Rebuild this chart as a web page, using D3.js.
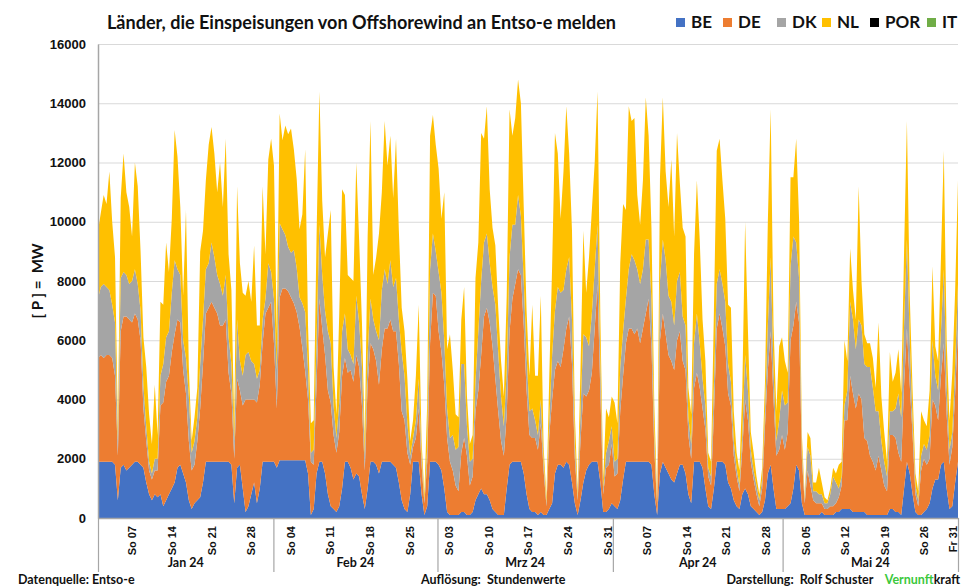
<!DOCTYPE html>
<html lang="de">
  <head>
    <meta charset="utf-8" />
    <title>Offshorewind Entso-e</title>
    <script src="https://d3js.org/d3.v7.min.js"></script>
    <style type="text/css">
      body { margin: 0; background: #fff; }
      svg { display: block; font-family: Lato, "Open Sans", sans-serif; }
      text { font-weight: bold; fill: #111; }
    </style>
  </head>
  <body>
    <script type="text/javascript">
      // Halbtageswerte (MW), je Tag zwei Werte
      const beJan = [1900,1900, 1900,1900, 1900,1900, 1800,600, 1700,1800, 1600,1700, 1800,1900, 1900,1800, 1700,1200, 800,600, 800,700, 800,400, 600,800, 1000,1200, 1700,1800, 1500,1200, 600,300, 500,600, 700,1200, 1900,1900, 1900,1900, 1900,1900, 1900,1900, 1900,1800, 500,1700, 1800,1000, 200,400, 800,1200, 500,1000, 1900,1900, 1900,1900];
      const deJan = [3500,3600, 3500,3600, 3600,3500, 3000,1500, 4600,5000, 5200,5000, 4800,5000, 4800,4200, 2000,1400, 800,700, 800,900, 3000,3500, 4000,4000, 4600,5000, 5000,4800, 3500,3000, 2000,1300, 1300,2000, 3000,4000, 5000,5200, 5400,5200, 5000,4600, 4600,4800, 3000,2400, 1500,3000, 2500,2800, 3800,3600, 3200,2800, 3400,3500, 4000,5000, 5200,5400];
      const dkJan = [2000,2300, 2500,2300, 2200,1800, 1800,500, 1800,1500, 1400,1200, 1400,1500, 1200,1000, 800,500, 300,200, 400,400, 1000,1300, 1500,1500, 2000,2500, 1700,1600, 1000,1200, 1500,600, 800,800, 1500,1500, 1500,1500, 2000,1700, 1300,1400, 1000,1500, 1200,1000, 600,2000, 1000,1000, 1500,1600, 1300,1200, 800,500, 800,500, 1500,1000];
      const nlJan = [2300,2500, 3000,2800, 4000,2800, 2200,500, 2700,4000, 2800,2600, 1500,3600, 3300,2000, 1600,2000, 1600,1000, 2500,800, 2500,2000, 3200,2000, 2500,4400, 3800,2300, 1500,5000, 1000,400, 800,1000, 3800,3000, 3000,4000, 3900,3500, 2800,4100, 3000,4600, 2800,2500, 600,4500, 3300,2800, 2000,2400, 2000,4000, 1800,1500, 4500,1500, 3500,4500];

      const beFeb = [1900,1700, 1950,1950, 1950,1950, 1950,1950, 1950,1950, 1950,1950, 1500,100, 300,1500, 1900,1900, 1500,800, 400,300, 200,400, 1000,1900, 1900,1700, 1300,1500, 1400,800, 300,1000, 1900,1900, 1800,1500, 1900,1900, 1900,1900, 1800,1700, 1200,600, 300,200, 800,1900, 1900,1900, 800,100, 400,1900, 1900,1900];
      const deFeb = [4000,2000, 5500,5800, 5800,5700, 5500,5300, 5000,4500, 3800,3000, 2500,1800, 1500,3000, 5500,4500, 4000,3500, 3500,2500, 2000,2500, 3800,3500, 3000,3300, 3300,4000, 3700,3000, 1300,3500, 4000,3800, 3500,3000, 3800,4500, 4500,4800, 4500,4600, 4000,3000, 3000,2000, 1000,500, 800,1800, 1000,400, 1500,4000, 5700,5600];
      const dkFeb = [1500,1300, 2500,2000, 1800,1500, 1500,1800, 1500,1000, 1500,2000, 1000,300, 500,1500, 2500,1800, 1500,2000, 2000,1000, 500,1000, 1500,1500, 800,500, 600,2000, 1500,1300, 500,1000, 1500,1000, 1000,1500, 2000,2000, 1500,2000, 1500,1800, 1500,2000, 1500,1000, 300,300, 600,1000, 300,100, 500,2500, 2000,1500];
      const nlFeb = [4500,1200, 3700,3000, 3700,3800, 4200,3400, 3000,2300, 3000,5500, 1500,1000, 1000,3500, 4500,2500, 1800,3300, 4500,1300, 800,3000, 4800,4000, 2500,2600, 2800,4500, 2800,1500, 500,4000, 6000,1500, 2500,3600, 3300,5000, 4000,4200, 3000,4700, 3000,1500, 1500,1500, 500,600, 1500,2500, 500,200, 1500,4500, 4000,3600];

      const beMar = [1800,1600, 1000,200, 100,100, 100,100, 200,200, 100,100, 200,600, 800,1000, 800,800, 600,300, 200,100, 100,100, 1000,1800, 1900,1900, 1900,1900, 1500,800, 300,200, 200,100, 200,100, 100,300, 500,1500, 1800,1800, 1700,1900, 1800,1200, 500,100, 600,1200, 1600,1800, 1900,1900, 1900,1200, 200,200, 300,500];
      const deMar = [4500,4000, 3500,2500, 1800,1500, 1000,800, 2000,2500, 2000,1000, 1200,3000, 3500,4500, 6000,6300, 6000,5500, 4500,3500, 2500,2000, 2500,4500, 5500,6000, 6500,6300, 5000,3500, 2500,2500, 2500,2200, 3000,1500, 300,2500, 3500,3500, 3500,3300, 4000,4500, 5000,4000, 1500,500, 2000,3000, 2500,2500, 3000,4500, 6000,3000, 600,1500, 1500,2000];
      const dkMar = [2000,2000, 1500,1000, 800,1200, 1200,1500, 3000,2500, 1000,800, 600,1000, 2000,2500, 2500,2500, 2000,2000, 2500,2000, 1500,1000, 1500,2500, 2500,2000, 2500,2000, 1500,1200, 800,1000, 600,500, 800,300, 100,500, 1500,2000, 2500,2500, 2000,2000, 2000,1500, 500,100, 1000,2000, 2000,1500, 2000,2000, 2000,1000, 200,500, 800,600];
      const nlMar = [3500,2500, 5000,2000, 3500,2200, 1200,1000, 1500,2600, 1000,600, 800,3500, 3000,5000, 3500,4300, 2500,2000, 2000,1500, 1200,1000, 2500,5000, 3000,3600, 3900,3800, 2500,1500, 1200,3500, 1500,2000, 3500,500, 200,1500, 3000,6000, 4500,2500, 4000,5500, 3500,3000, 1000,200, 1500,3500, 1500,3000, 3500,3600, 4500,1500, 300,1500, 800,1000];

      const beApr = [400,300, 600,1300, 1900,1900, 1900,1900, 1900,1900, 1900,1900, 1900,1800, 800,100, 1500,1900, 1700,1500, 1300,1200, 1500,1800, 1800,1500, 800,500, 1900,1900, 1900,1700, 1000,400, 300,1000, 1900,1900, 1900,1800, 1200,1000, 600,400, 300,800, 1000,800, 400,300, 200,100, 200,600, 1500,1800, 1000,300, 300,300];
      const deApr = [1000,1200, 3000,3500, 4000,4500, 4500,4300, 4500,4000, 4500,5000, 5500,4000, 1500,300, 4500,5000, 4500,4000, 4000,3800, 4500,4500, 3500,3500, 2000,1500, 2500,3000, 2500,2000, 2000,1000, 800,2500, 4500,5000, 4500,4000, 3000,2800, 1500,1000, 600,1500, 3000,2500, 1500,1000, 600,300, 800,2500, 3500,4500, 3000,1800, 2000,2500];
      const dkApr = [500,500, 1500,1500, 1500,2000, 2500,2500, 2000,2000, 2000,2500, 2000,1500, 500,100, 2000,2500, 2500,2000, 2000,1500, 2000,2000, 1500,1500, 600,500, 1500,2000, 1500,1000, 800,300, 300,1000, 1500,1500, 1500,1500, 1000,800, 500,300, 200,500, 1500,1000, 400,300, 300,200, 300,500, 1500,2500, 1000,500, 1000,1500];
      const nlApr = [2000,1200, 3500,4300, 3000,5500, 4500,4800, 2500,2000, 3000,4800, 3500,2500, 1000,200, 3500,4800, 3000,3000, 4800,3000, 5000,3000, 3000,3000, 1000,1000, 3000,4500, 3500,2000, 1500,500, 500,2500, 4500,4400, 3500,2800, 2000,2500, 1000,500, 500,1500, 4500,2000, 600,600, 300,200, 400,1000, 3500,5000, 1500,1000, 2500,1800];

      const beMay = [300,400, 500,1000, 1800,1600, 500,100, 100,100, 100,100, 100,200, 100,100, 100,100, 200,200, 300,300, 300,300, 200,200, 200,200, 200,100, 100,100, 100,100, 100,100, 100,300, 300,200, 200,100, 1000,1900, 1500,800, 200,100, 100,200, 300,500, 1000,1300, 1300,1800, 1900,1000, 300,400, 1200,1900];
      const deMay = [2000,2500, 5500,5500, 5500,5000, 1500,400, 1500,1000, 500,400, 400,300, 200,200, 300,300, 300,500, 800,3000, 3000,4500, 4000,3500, 4000,3800, 2500,2500, 2000,1800, 1500,2000, 1500,1000, 800,2500, 2500,2500, 2000,1800, 3500,4500, 3000,2000, 600,300, 1500,1800, 1500,1500, 3000,2500, 2000,3000, 4000,2500, 1500,2000, 3000,4500];
      const dkMay = [1500,1000, 2500,3000, 2000,1500, 300,100, 800,1000, 300,400, 300,300, 200,200, 400,1000, 700,300, 300,500, 1000,2500, 2500,2000, 2500,2500, 2500,2500, 3000,2500, 2000,1500, 1000,800, 500,800, 800,1000, 2000,1500, 2000,3000, 1500,500, 300,200, 500,500, 500,800, 2000,1000, 1000,1500, 2500,1000, 500,500, 1000,1500];
      const nlMay = [1500,1000, 3000,2000, 3500,2000, 500,100, 500,600, 300,300, 900,400, 200,100, 200,300, 300,800, 500,2200, 1000,1800, 1000,1000, 4500,1500, 1000,800, 800,1000, 800,3000, 1500,1000, 500,2000, 1000,1200, 1500,800, 2500,4000, 1500,1000, 400,300, 1500,800, 800,1500, 2500,1000, 1000,2500, 4000,1500, 1000,2000, 2500,3500];

      const countries = ["BE", "DE", "DK", "NL", "POR", "IT"];
      const colors = ["#4472C4", "#ED7D31", "#A5A5A5", "#FFC000", "#000000", "#70AD47"];
      const yTicks = [0, 2000, 4000, 6000, 8000, 10000, 12000, 14000, 16000];
      const dayTickDates = ["2024-01-07", "2024-01-14", "2024-01-21", "2024-01-28", "2024-02-04", "2024-02-11", "2024-02-18", "2024-02-25", "2024-03-03", "2024-03-10", "2024-03-17", "2024-03-24", "2024-03-31", "2024-04-07", "2024-04-14", "2024-04-21", "2024-04-28", "2024-05-05", "2024-05-12", "2024-05-19", "2024-05-26", "2024-05-31"];
      const dayTickLabels = ["So 07", "So 14", "So 21", "So 28", "So 04", "So 11", "So 18", "So 25", "So 03", "So 10", "So 17", "So 24", "So 31", "So 07", "So 14", "So 21", "So 28", "So 05", "So 12", "So 19", "So 26", "Fr 31"];
      const monthStarts = ["2024-01-01", "2024-02-01", "2024-03-01", "2024-04-01", "2024-05-01", "2024-06-01"];
      const monthLabels = ["Jan 24", "Feb 24", "Mrz 24", "Apr 24", "Mai 24"];

      const w = 964;
      const h = 587;
      const plotLeft = 98, plotRight = 958, plotTop = 44, plotBottom = 518;

      const parse = d3.utcParse("%Y-%m-%d");
      const t0 = parse(monthStarts[0]);
      const t1 = parse(monthStarts[monthStarts.length - 1]);

      const values = {
        BE: [].concat(beJan, beFeb, beMar, beApr, beMay),
        DE: [].concat(deJan, deFeb, deMar, deApr, deMay),
        DK: [].concat(dkJan, dkFeb, dkMar, dkApr, dkMay),
        NL: [].concat(nlJan, nlFeb, nlMar, nlApr, nlMay),
      };
      const n = values.BE.length;
      const step = (t1 - t0) / (n - 1);
      const rows = d3.range(n).map(function (i) {
        return {
          date: new Date(+t0 + i * step),
          BE: values.BE[i],
          DE: values.DE[i],
          DK: values.DK[i],
          NL: values.NL[i],
        };
      });

      const xScale = d3.scaleUtc().domain([t0, t1]).range([plotLeft, plotRight]);
      const yScale = d3.scaleLinear().domain([0, 16000]).range([plotBottom, plotTop]);

      const svg = d3.select("body").append("svg").attr("width", w).attr("height", h);
      svg.append("rect").attr("width", w).attr("height", h).attr("fill", "#fff");

      // Gitterlinien
      const grid = svg.append("g")
        .attr("transform", "translate(" + plotLeft + ",0)")
        .call(d3.axisLeft(yScale).tickValues(yTicks.slice(1)).tickSize(-(plotRight - plotLeft)).tickFormat(""));
      grid.select(".domain").remove();
      grid.selectAll("line").attr("stroke", "#d9d9d9").attr("stroke-width", 1.2);

      // Flächen
      const stack = d3.stack().keys(["BE", "DE", "DK", "NL"]);
      const layers = stack(rows);
      const area = d3.area()
        .x(function (d) { return xScale(d.data.date); })
        .y0(function (d) { return yScale(d[0]); })
        .y1(function (d) { return yScale(d[1]); });

      svg.append("g").selectAll("path")
        .data(layers)
        .enter()
        .append("path")
        .attr("d", area)
        .attr("fill", function (d, i) { return colors[i]; });

      // y-Achse
      const yAxis = svg.append("g")
        .attr("transform", "translate(" + plotLeft + ",0)")
        .call(d3.axisLeft(yScale).tickValues(yTicks).tickSize(0).tickPadding(12).tickFormat(d3.format("d")));
      yAxis.select(".domain").attr("stroke", "#a6a6a6").attr("stroke-width", 1.5);
      yAxis.selectAll("text").style("font-size", "13px").style("font-weight", "bold").attr("fill", "#111");

      // x-Achse: Monatsgrenzen
      const monthAxis = svg.append("g")
        .attr("transform", "translate(0," + plotBottom + ")")
        .call(d3.axisBottom(xScale).tickValues(monthStarts.map(parse)).tickSize(54).tickSizeOuter(0).tickFormat(""));
      monthAxis.select(".domain").attr("stroke", "#a6a6a6").attr("stroke-width", 1.5);
      monthAxis.selectAll("line").attr("stroke", "#a6a6a6").attr("stroke-width", 1.2);

      // x-Achse: Sonntage
      const dayAxis = svg.append("g")
        .attr("transform", "translate(0," + plotBottom + ")")
        .call(d3.axisBottom(xScale).tickValues(dayTickDates.map(parse)).tickSize(0)
          .tickFormat(function (d, i) { return dayTickLabels[i]; }));
      dayAxis.select(".domain").remove();
      dayAxis.selectAll("text")
        .attr("y", 0)
        .attr("x", -8)
        .attr("dy", "0.35em")
        .attr("transform", "rotate(-90)")
        .style("text-anchor", "end")
        .style("font-size", "11px")
        .style("font-weight", "bold")
        .attr("fill", "#111");

      svg.append("g").selectAll("text")
        .data(monthLabels)
        .enter()
        .append("text")
        .attr("x", function (d, i) {
          return (xScale(parse(monthStarts[i])) + xScale(parse(monthStarts[i + 1]))) / 2;
        })
        .attr("y", 567)
        .attr("text-anchor", "middle")
        .style("font-size", "12.5px")
        .text(function (d) { return d; });

      // Titel
      svg.append("text")
        .attr("x", 107)
        .attr("y", 29)
        .attr("textLength", 509)
        .attr("lengthAdjust", "spacingAndGlyphs")
        .style("font-size", "18px")
        .text("Länder, die Einspeisungen von Offshorewind an Entso-e melden");

      // Legende
      const legendX = [676, 723, 777, 822, 870, 927];
      const legend = svg.append("g").selectAll("g")
        .data(countries)
        .enter()
        .append("g")
        .attr("transform", function (d, i) { return "translate(" + legendX[i] + ",0)"; });
      legend.append("rect")
        .attr("y", 18)
        .attr("width", 9)
        .attr("height", 9)
        .attr("fill", function (d, i) { return colors[i]; });
      legend.append("text")
        .attr("x", 15)
        .attr("y", 28)
        .style("font-size", "17px")
        .text(function (d) { return d; });

      // y-Beschriftung
      svg.append("text")
        .attr("transform", "translate(43,281) rotate(-90)")
        .attr("text-anchor", "middle")
        .style("font-size", "15px")
        .style("white-space", "pre")
        .text("[ P ] =  MW");

      // Fußzeile
      svg.append("text")
        .attr("x", 18)
        .attr("y", 584)
        .style("font-size", "12.5px")
        .text("Datenquelle: Entso-e");

      svg.append("text")
        .attr("x", 421)
        .attr("y", 584)
        .style("font-size", "12.5px")
        .style("white-space", "pre")
        .text("Auflösung:  Stundenwerte");

      const credit = svg.append("text")
        .attr("x", 960)
        .attr("y", 584)
        .attr("text-anchor", "end")
        .style("font-size", "12.5px")
        .style("white-space", "pre");
      credit.append("tspan").text("Darstellung:  Rolf Schuster    ");
      credit.append("tspan").attr("fill", "#3cc83c").text("Vernunft");
      credit.append("tspan").text("kraft");
    </script>
  </body>
</html>
